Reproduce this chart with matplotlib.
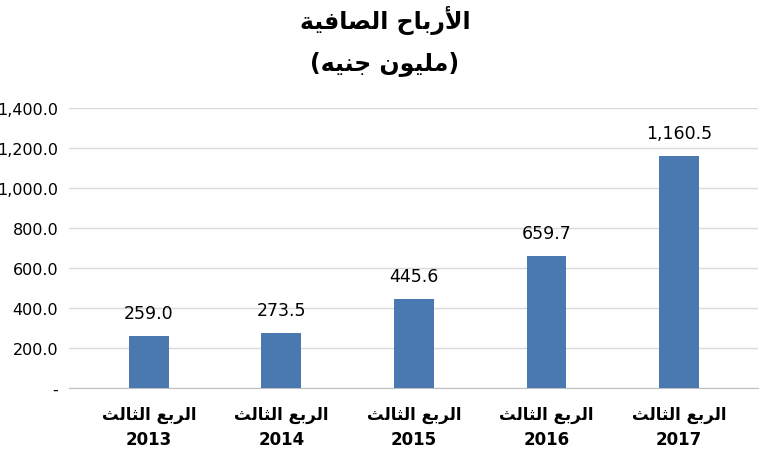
import matplotlib
matplotlib.use('Agg')
import matplotlib.pyplot as plt

years = ['2013', '2014', '2015', '2016', '2017']
profits = [259.0, 273.5, 445.6, 659.7, 1160.5]
quarter_label = 'الربع الثالث'
title_lines = ['الأرباح الصافية', '(مليون جنيه)']

# minimal Arabic shaping: (isolated, final, initial, medial)
FORMS = {
    'ا': (0xFE8D, 0xFE8E, None, None), 'أ': (0xFE83, 0xFE84, None, None),
    'ب': (0xFE8F, 0xFE90, 0xFE91, 0xFE92), 'ة': (0xFE93, 0xFE94, None, None),
    'ث': (0xFE99, 0xFE9A, 0xFE9B, 0xFE9C), 'ج': (0xFE9D, 0xFE9E, 0xFE9F, 0xFEA0),
    'ح': (0xFEA1, 0xFEA2, 0xFEA3, 0xFEA4), 'ر': (0xFEAD, 0xFEAE, None, None),
    'ص': (0xFEB9, 0xFEBA, 0xFEBB, 0xFEBC), 'ع': (0xFEC9, 0xFECA, 0xFECB, 0xFECC),
    'ف': (0xFED1, 0xFED2, 0xFED3, 0xFED4), 'ل': (0xFEDD, 0xFEDE, 0xFEDF, 0xFEE0),
    'م': (0xFEE1, 0xFEE2, 0xFEE3, 0xFEE4), 'ن': (0xFEE5, 0xFEE6, 0xFEE7, 0xFEE8),
    'ه': (0xFEE9, 0xFEEA, 0xFEEB, 0xFEEC), 'و': (0xFEED, 0xFEEE, None, None),
    'ي': (0xFEF1, 0xFEF2, 0xFEF3, 0xFEF4),
    'لا': (0xFEFB, 0xFEFC, None, None), 'لأ': (0xFEF7, 0xFEF8, None, None),
}


def shape(text):
    units = []
    i = 0
    while i < len(text):
        if text[i] == 'ل' and i + 1 < len(text) and text[i + 1] in 'اأ':
            units.append(text[i:i + 2])
            i += 2
        else:
            units.append(text[i])
            i += 1
    out = []
    for k, u in enumerate(units):
        if u not in FORMS:
            out.append(u)
            continue
        f = FORMS[u]
        prev = units[k - 1] if k > 0 else None
        nxt = units[k + 1] if k + 1 < len(units) else None
        pj = prev in FORMS and FORMS[prev][2] is not None
        nj = f[2] is not None and nxt in FORMS
        if pj and nj:
            c = f[3]
        elif pj:
            c = f[1]
        elif nj:
            c = f[2]
        else:
            c = f[0]
        out.append(chr(c))
    s = ''.join(reversed(out))
    return s.replace('(', '\0').replace(')', '(').replace('\0', ')')


plt.rcParams['font.family'] = ['DejaVu Sans']
fig, ax = plt.subplots(figsize=(7.7, 4.56), dpi=100)
fig.subplots_adjust(left=0.09, right=0.985, top=0.76, bottom=0.147)

x = range(len(years))
bars = ax.bar(x, profits, width=0.3, color='#4a78b0', zorder=3)
for xi, v in zip(x, profits):
    ax.text(xi, v + 70, f'{v:,.1f}', ha='center', va='bottom', fontsize=12.5)

ax.set_ylim(0, 1400)
yt = list(range(0, 1401, 200))
ax.set_yticks(yt)
ax.set_yticklabels(['-'] + [f'{t:,.1f}' for t in yt[1:]], fontsize=11.5)
ax.set_xlim(-0.6, 4.6)
ax.set_xticks(list(x))
ax.set_xticklabels([f'{shape(quarter_label)}\n{y}' for y in years],
                   fontsize=12, fontweight='bold', linespacing=1.5)
ax.yaxis.grid(True, color='#d9d9d9', linewidth=1, zorder=0)
for s in ['top', 'right', 'left']:
    ax.spines[s].set_visible(False)
ax.spines['bottom'].set_color('#bfbfbf')
ax.tick_params(axis='both', length=0)
ax.tick_params(axis='x', pad=12)
ax.tick_params(axis='y', pad=8)

fig.text(0.5, 0.955, shape(title_lines[0]), ha='center', va='center',
         fontsize=17, fontweight='bold')
fig.text(0.5, 0.86, shape(title_lines[1]), ha='center', va='center',
         fontsize=17, fontweight='bold')

fig.savefig('out.png')
